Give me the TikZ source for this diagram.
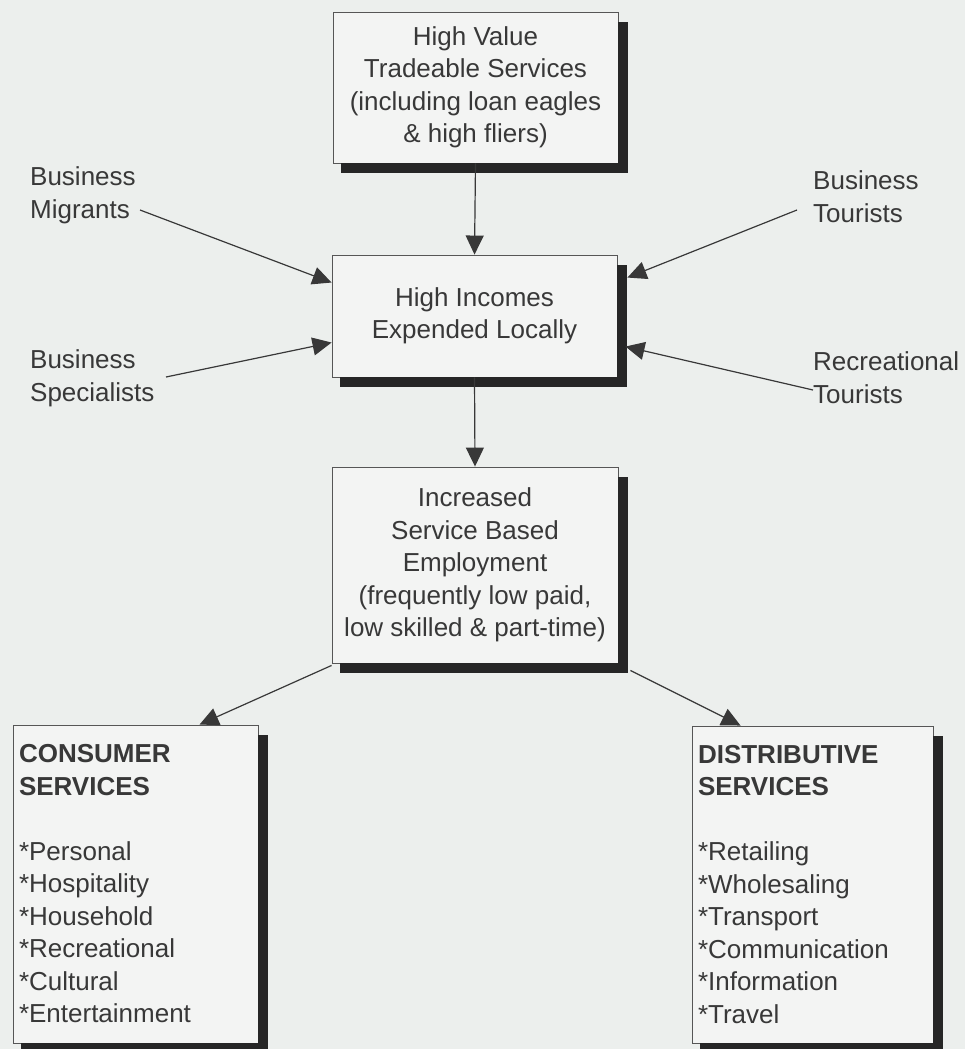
\documentclass[tikz,border=0pt]{standalone}
\usepackage{fontspec}
\setmainfont{Liberation Sans}
\usetikzlibrary{arrows.meta,calc}
\definecolor{bg}{HTML}{ECEFED}
\definecolor{boxfill}{HTML}{F3F4F3}
\definecolor{ink}{HTML}{383838}
\definecolor{shadowc}{HTML}{262626}
\tikzset{
  txt/.style={text=ink, font=\fontsize{26}{32.5}\selectfont},
  box/.style={txt, draw=ink!85, line width=0.9pt, fill=boxfill, inner sep=0pt},
  lbl/.style={txt, align=left, inner sep=0pt},
  arr/.style={draw=ink, line width=1.2pt, -{Triangle[length=19pt,width=18pt]}},
  boxshade/.style={fill=shadowc, draw=none},
}
\newcommand\boxshadow[1]{%
  \path[boxshade] ($(#1.north east)+(0,10)$) rectangle ($(#1.south east)+(9.5,9.5)$);
  \path[boxshade] ($(#1.south west)+(8,0)$) rectangle ($(#1.south east)+(9.5,9.5)$);}
\begin{document}
\begin{tikzpicture}[x=1pt,y=-1pt]
\fill[bg] (0,0) rectangle (965,1049);
\useasboundingbox (0,0) rectangle (965,1049);

% main chain
\node[box, minimum width=285pt, minimum height=151pt, align=center] (b1) at (475.5,87.5)
  {High Value\\Tradeable Services\\(including loan eagles\\\& high fliers)};
\node[box, minimum width=285pt, minimum height=122pt, align=center] (b2) at (474.5,316)
  {High Incomes\\Expended Locally};
\node[box, minimum width=286pt, minimum height=196pt, align=center] (b3) at (475,565)
  {Increased\\Service Based\\Employment\\(frequently low paid,\\low skilled \& part-time)};

% bottom boxes
\node[box, text width=233pt, inner xsep=6pt, minimum height=318pt, align=left] (cons) at (135.5,884)
  {\textbf{CONSUMER}\\\textbf{SERVICES}\\[32.5pt]{}*Personal\\{}*Hospitality\\{}*Household\\{}*Recreational\\{}*Cultural\\{}*Entertainment};
\node[box, text width=229pt, inner xsep=6pt, minimum height=317pt, align=left] (dist) at (812.5,884.5)
  {\textbf{DISTRIBUTIVE}\\\textbf{SERVICES}\\[32.5pt]{}*Retailing\\{}*Wholesaling\\{}*Transport\\{}*Communication\\{}*Information\\{}*Travel};

\boxshadow{b1}
\boxshadow{b2}
\boxshadow{b3}
\boxshadow{cons}
\boxshadow{dist}

% side labels
\node[lbl, anchor=west] (mig) at (30,195.5) {Business\\Migrants};
\node[lbl, anchor=west] (spe) at (30,378.5) {Business\\Specialists};
\node[lbl, anchor=west] (btour) at (813,196.5) {Business\\Tourists};
\node[lbl, anchor=west] (rtour) at (813,377.5) {Recreational\\Tourists};

\coordinate (migS) at (140,210);
\coordinate (speS) at (166,377);
\coordinate (btourS) at (797,210);
\coordinate (rtourS) at (813,390);

% connectors
\draw[arr] (b1.south) -- (b2.north);
\draw[arr] (b2.south) -- (b3.north);
\draw[arr] (migS) -- ($(b2.north west)+(0,28)$);
\draw[arr] (speS) -- ($(b2.north west)+(0,88)$);
\draw[arr] (btourS) -- ($(b2.north east)+(10,23)$);
\draw[arr] (rtourS) -- ($(b2.north east)+(8,92)$);
\draw[arr] ($(b3.south west)+(0,2)$) -- ($(cons.north west)+(187,0)$);
\draw[arr] ($(b3.south east)+(12,7)$) -- ($(dist.north west)+(49,0)$);
\end{tikzpicture}
\end{document}
